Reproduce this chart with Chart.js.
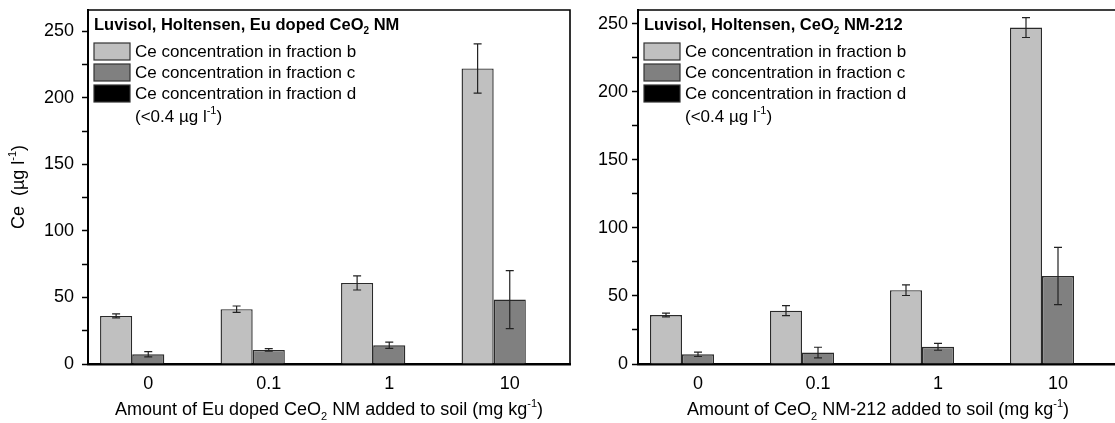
<!DOCTYPE html>
<html>
<head>
<meta charset="utf-8">
<script src="https://cdn.jsdelivr.net/npm/chart.js@4/dist/chart.umd.min.js"></script>
<style>
    html, body { margin: 0; padding: 0; background: #fff; }
    #wrap { position: relative; width: 1115px; height: 423px; overflow: hidden; }
    #wrap canvas { position: absolute; top: 0; }
    #left { left: 0; }
    #right { left: 575px; }
</style>
</head>
<body>
<div id="wrap">
    <canvas id="left" width="575" height="423"></canvas>
    <canvas id="right" width="560" height="423"></canvas>
</div>
<script>
/* ---- data ---- */
const doses = ['0', '0.1', '1', '10'];
const seriesLabels = [
    'Ce concentration in fraction b',
    'Ce concentration in fraction c',
    'Ce concentration in fraction d'
];
const yTicks = [0, 50, 100, 150, 200, 250];

// Eu doped CeO2 NM
const euB = [36.1, 41.2, 60.9, 222.1];
const euBErr = [1.5, 2.4, 5.3, 18.5];
const euC = [7.3, 10.6, 14.1, 48.4];
const euCErr = [2.0, 1.0, 2.4, 21.8];
const euD = [0, 0, 0, 0];

// CeO2 NM-212
const nmB = [36.0, 39.2, 54.2, 247.1];
const nmBErr = [1.4, 3.7, 3.9, 7.3];
const nmC = [7.1, 8.4, 12.6, 64.6];
const nmCErr = [1.6, 3.9, 2.5, 21.0];
const nmD = [0, 0, 0, 0.3];

const FONT = "'Liberation Sans', Arial, sans-serif";
const fills = ['#c0c0c0', '#808080', '#000000'];

// text with sub/superscripts, parts = strings or {t, s: 'sub'|'sup'}
function drawRich(ctx, parts, x, y, size, weight, align) {
    const norm = parts.map(p => typeof p === 'string' ? { t: p } : p);
    const fontOf = p => `${weight} ${p.s ? Math.round(size * 0.62) : size}px ${FONT}`;
    let total = 0;
    norm.forEach(p => { ctx.font = fontOf(p); p.w = ctx.measureText(p.t).width; total += p.w; });
    let cx = align === 'center' ? x - total / 2 : x;
    ctx.textAlign = 'left';
    ctx.textBaseline = 'middle';
    norm.forEach(p => {
        ctx.font = fontOf(p);
        let dy = 0;
        if (p.s === 'sub') dy = size * 0.38;
        if (p.s === 'sup') dy = -size * 0.36;
        ctx.fillText(p.t, cx, y + dy);
        cx += p.w;
    });
}

const panelDecor = {
    id: 'panelDecor',
    afterDatasetsDraw(chart, args, opts) {
        const { ctx, chartArea: a } = chart;
        const y = chart.scales.y;
        ctx.save();

        // error bars
        ctx.strokeStyle = '#222';
        ctx.lineWidth = 1.2;
        chart.data.datasets.forEach((ds, di) => {
            if (!ds.errors) return;
            chart.getDatasetMeta(di).data.forEach((bar, i) => {
                const v = ds.data[i], e = ds.errors[i];
                const top = y.getPixelForValue(v + e), bot = y.getPixelForValue(v - e);
                ctx.beginPath();
                ctx.moveTo(bar.x, top); ctx.lineTo(bar.x, bot);
                ctx.moveTo(bar.x - 4, top); ctx.lineTo(bar.x + 4, top);
                ctx.moveTo(bar.x - 4, bot); ctx.lineTo(bar.x + 4, bot);
                ctx.stroke();
            });
        });

        // frame top / right
        ctx.strokeStyle = '#000';
        ctx.lineWidth = 1.6;
        ctx.beginPath();
        ctx.moveTo(a.left, a.top); ctx.lineTo(a.right, a.top); ctx.lineTo(a.right, a.bottom);
        ctx.stroke();

        // legend block
        ctx.fillStyle = '#000';
        const lx = a.left + 6;
        drawRich(ctx, opts.title, lx, a.top + 15, 16.5, 'bold', 'left');
        chart.data.datasets.forEach((ds, i) => {
            const by = a.top + 33 + i * 21;
            ctx.fillStyle = ds.backgroundColor;
            ctx.fillRect(lx, by, 36, 17);
            ctx.strokeStyle = '#333';
            ctx.lineWidth = 1.2;
            ctx.strokeRect(lx, by, 36, 17);
            ctx.fillStyle = '#000';
            drawRich(ctx, [ds.label], lx + 41, by + 9.5, 17, 'normal', 'left');
        });
        drawRich(ctx, ['(<0.4 µg l', { t: '-1', s: 'sup' }, ')'], lx + 41, a.top + 107, 17, 'normal', 'left');

        // axis titles
        drawRich(ctx, opts.xTitle, (a.left + a.right) / 2, 410, 18, 'normal', 'center');
        if (opts.yTitle) {
            ctx.translate(19, (a.top + a.bottom) / 2);
            ctx.rotate(-Math.PI / 2);
            drawRich(ctx, opts.yTitle, 0, 0, 18, 'normal', 'center');
        }
        ctx.restore();
    }
};

function renderPanel(canvasId, b, bErr, c, cErr, d, cfg) {
    const ctx = document.getElementById(canvasId);
    const mk = (i, data, errors) => ({
        label: seriesLabels[i],
        data,
        errors,
        backgroundColor: fills[i],
        borderColor: '#2a2a2a',
        borderWidth: 1.4,
        categoryPercentage: 0.8,
        barPercentage: 1.0
    });

    return new Chart(ctx, {
        type: 'bar',
        data: {
            labels: doses,
            datasets: [mk(0, b, bErr), mk(1, c, cErr), mk(2, d, null)]
        },
        options: {
            responsive: false,
            animation: false,
            layout: { padding: { top: 10, right: cfg.padRight, left: 0, bottom: 0 } },
            scales: {
                x: {
                    grid: { display: false, drawTicks: false },
                    border: { display: true, color: '#000', width: 2.5 },
                    ticks: { color: '#000', padding: 9, font: { family: FONT, size: 18 } },
                    afterFit: s => { s.height = 59; s.paddingLeft = 0; s.paddingRight = 0; }
                },
                y: {
                    min: 0,
                    max: cfg.yMax,
                    afterBuildTicks: s => {
                        const t = [];
                        for (let v = 0; v <= cfg.yMax; v += 25) t.push({ value: v });
                        s.ticks = t;
                    },
                    grid: { drawOnChartArea: false, drawTicks: true, tickLength: 6, tickColor: '#000', tickWidth: 1.5 },
                    border: { display: true, color: '#000', width: 2 },
                    ticks: {
                        color: '#000',
                        padding: cfg.tickPad,
                        font: { family: FONT, size: 18 },
                        callback: v => yTicks.includes(v) ? String(v) : ''
                    },
                    afterFit: s => { s.width = cfg.yWidth; s.paddingTop = 0; s.paddingBottom = 0; }
                }
            },
            plugins: {
                legend: { display: false },
                tooltip: { enabled: false },
                panelDecor: { title: cfg.title, xTitle: cfg.xTitle, yTitle: cfg.yTitle }
            }
        },
        plugins: [panelDecor]
    });
}

renderPanel('left', euB, euBErr, euC, euCErr, euD, {
    yMax: 266, yWidth: 88, padRight: 5, tickPad: 8,
    title: ['Luvisol, Holtensen, Eu doped CeO', { t: '2', s: 'sub' }, ' NM'],
    xTitle: ['Amount of Eu doped CeO', { t: '2', s: 'sub' }, ' NM added to soil (mg kg', { t: '-1', s: 'sup' }, ')'],
    yTitle: ['Ce  (µg l', { t: '-1', s: 'sup' }, ')']
});

renderPanel('right', nmB, nmBErr, nmC, nmCErr, nmD, {
    yMax: 260, yWidth: 63, padRight: 17, tickPad: 4,
    title: ['Luvisol, Holtensen, CeO', { t: '2', s: 'sub' }, ' NM-212'],
    xTitle: ['Amount of CeO', { t: '2', s: 'sub' }, ' NM-212 added to soil (mg kg', { t: '-1', s: 'sup' }, ')'],
    yTitle: null
});
</script>
</body>
</html>
